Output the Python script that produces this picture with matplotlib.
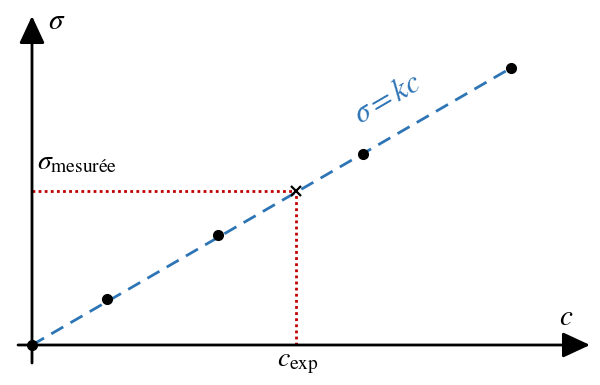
import matplotlib
matplotlib.use("Agg")
import matplotlib.pyplot as plt
from matplotlib.patches import ArrowStyle

plt.rcParams['mathtext.fontset'] = 'stix'
plt.rcParams['font.family'] = ['STIXGeneral', 'DejaVu Serif']

# data (arbitrary units)
c_points = [0, 75, 186, 331, 479]
sigma_points = [0, 46, 110, 191, 277]
k = 277 / 479
c_exp = 264
sigma_mes = 154

blue = '#2E75B6'
red = '#C00000'

fig = plt.figure(figsize=(6.0, 3.85), dpi=100)
ax = fig.add_axes([0, 0, 1, 1])
ax.set_xlim(-32, 568)
ax.set_ylim(-40, 345)
ax.axis('off')

# axes with arrows
style = ArrowStyle('-|>', head_length=1.4, head_width=0.65)
ax.annotate('', xy=(558, 0), xytext=(-14, 0),
            arrowprops=dict(arrowstyle=style, mutation_scale=12, lw=2, color='black',
                            shrinkA=0, shrinkB=0))
ax.annotate('', xy=(0, 329), xytext=(0, -18),
            arrowprops=dict(arrowstyle=style, mutation_scale=12, lw=2, color='black',
                            shrinkA=0, shrinkB=0))

# fitted line
xs = [0, c_points[-1]]
ax.plot(xs, [k * x for x in xs], color=blue, lw=2, ls=(0, (5, 3)), zorder=3)

# red dotted guides
ax.plot([0, c_exp], [sigma_mes, sigma_mes], color=red, lw=2, ls=(0, (1, 1.2)), zorder=2)
ax.plot([c_exp, c_exp], [0, sigma_mes], color=red, lw=2, ls=(0, (1, 1.2)), zorder=2)

# points
ax.plot(c_points, sigma_points, 'o', color='black', ms=7, zorder=5)
ax.plot([c_exp], [sigma_mes], 'x', color='black', ms=7, mew=1.6, zorder=6)

# labels
ax.text(16, 323, r'$\sigma$', fontsize=21, ha='left', va='center')
ax.text(534, 27, r'$c$', fontsize=21, ha='center', va='center')
ax.text(5, 182, r'$\sigma_{\mathrm{mesurée}}$', fontsize=20, ha='left', va='center')
ax.text(c_exp + 2, -18, r'$c_{\mathrm{exp}}$', fontsize=20, ha='center', va='center')
ax.text(356, 245, r'$\sigma = kc$', fontsize=22, color=blue, ha='center', va='center',
        rotation=30.2, rotation_mode='anchor')

fig.savefig('out.png', dpi=100)
